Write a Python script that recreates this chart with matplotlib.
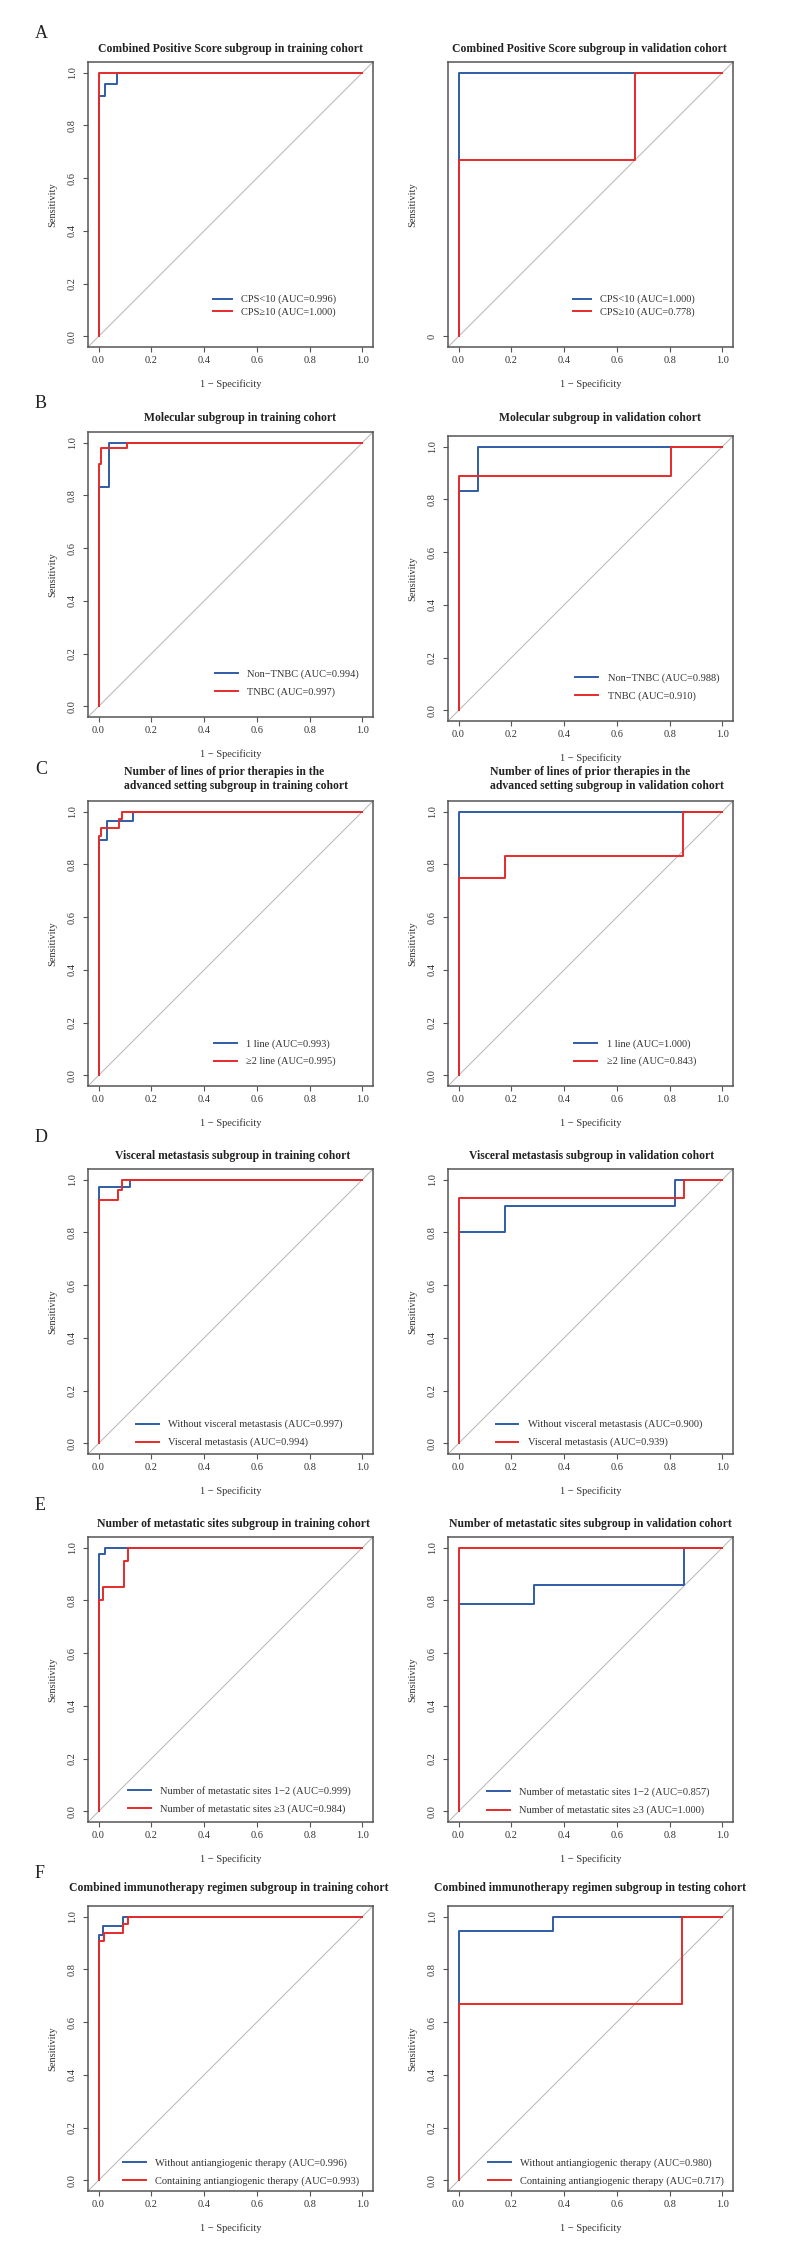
import matplotlib
matplotlib.use('Agg')
import matplotlib.pyplot as plt

plt.rcParams['font.family'] = ['Liberation Serif', 'DejaVu Serif']

BLUE = '#2f5ca6'
RED = '#e62a2a'
GREY = '#555555'

# ROC operating points (1 - specificity, sensitivity)
# A - combined positive score
cps_train_lt10_fpr = [0, 0, 0.024, 0.068, 1]
cps_train_lt10_tpr = [0, 0.911, 0.955, 1, 1]
cps_train_ge10_fpr = [0, 0, 1]
cps_train_ge10_tpr = [0, 1, 1]
cps_valid_lt10_fpr = [0, 0, 1]
cps_valid_lt10_tpr = [0, 1, 1]
cps_valid_ge10_fpr = [0, 0, 0.667, 1]
cps_valid_ge10_tpr = [0, 0.667, 1, 1]

# B - molecular subtype
mol_train_non_fpr = [0, 0, 0.039, 1]
mol_train_non_tpr = [0, 0.833, 1, 1]
mol_train_tnbc_fpr = [0, 0, 0.010, 0.107, 1]
mol_train_tnbc_tpr = [0, 0.918, 0.979, 1, 1]
mol_valid_non_fpr = [0, 0, 0.072, 1]
mol_valid_non_tpr = [0, 0.833, 1, 1]
mol_valid_tnbc_fpr = [0, 0, 0.806, 1]
mol_valid_tnbc_tpr = [0, 0.889, 1, 1]

# C - lines of prior therapy
lines_train_1_fpr = [0, 0, 0.033, 0.130, 1]
lines_train_1_tpr = [0, 0.893, 0.964, 1, 1]
lines_train_2_fpr = [0, 0, 0.011, 0.076, 0.088, 1]
lines_train_2_tpr = [0, 0.909, 0.939, 0.970, 1, 1]
lines_valid_1_fpr = [0, 0, 1]
lines_valid_1_tpr = [0, 1, 1]
lines_valid_2_fpr = [0, 0, 0.175, 0.851, 1]
lines_valid_2_tpr = [0, 0.75, 0.833, 1, 1]

# D - visceral metastasis
visc_train_no_fpr = [0, 0, 0.120, 1]
visc_train_no_tpr = [0, 0.971, 1, 1]
visc_train_yes_fpr = [0, 0, 0.073, 0.090, 1]
visc_train_yes_tpr = [0, 0.923, 0.962, 1, 1]
visc_valid_no_fpr = [0, 0, 0.175, 0.822, 1]
visc_valid_no_tpr = [0, 0.8, 0.9, 1, 1]
visc_valid_yes_fpr = [0, 0, 0.855, 1]
visc_valid_yes_tpr = [0, 0.929, 1, 1]

# E - number of metastatic sites
sites_train_12_fpr = [0, 0, 0.023, 1]
sites_train_12_tpr = [0, 0.976, 1, 1]
sites_train_3_fpr = [0, 0, 0.015, 0.097, 0.112, 1]
sites_train_3_tpr = [0, 0.8, 0.85, 0.95, 1, 1]
sites_valid_12_fpr = [0, 0, 0.284, 0.855, 1]
sites_valid_12_tpr = [0, 0.786, 0.857, 1, 1]
sites_valid_3_fpr = [0, 0, 1]
sites_valid_3_tpr = [0, 1, 1]

# F - combined regimen
reg_train_no_fpr = [0, 0, 0.018, 0.091, 1]
reg_train_no_tpr = [0, 0.929, 0.965, 1, 1]
reg_train_anti_fpr = [0, 0, 0.020, 0.093, 0.111, 1]
reg_train_anti_tpr = [0, 0.909, 0.939, 0.970, 1, 1]
reg_valid_no_fpr = [0, 0, 0.359, 1]
reg_valid_no_tpr = [0, 0.944, 1, 1]
reg_valid_anti_fpr = [0, 0, 0.847, 1]
reg_valid_anti_tpr = [0, 0.667, 1, 1]

letters = ['A', 'B', 'C', 'D', 'E', 'F']
titles = [
    ['Combined Positive Score subgroup in training cohort',
     'Combined Positive Score subgroup in validation cohort'],
    ['Molecular subgroup in training cohort',
     'Molecular subgroup in validation cohort'],
    ['Number of lines of prior therapies in the\nadvanced setting subgroup in training cohort',
     'Number of lines of prior therapies in the\nadvanced setting subgroup in validation cohort'],
    ['Visceral metastasis subgroup in training cohort',
     'Visceral metastasis subgroup in validation cohort'],
    ['Number of metastatic sites subgroup in training cohort',
     'Number of metastatic sites subgroup in validation cohort'],
    ['Combined immunotherapy regimen subgroup in training cohort',
     'Combined immunotherapy regimen subgroup in testing cohort'],
]
labels = [
    [['CPS<10 (AUC=0.996)', 'CPS\u226510 (AUC=1.000)'],
     ['CPS<10 (AUC=1.000)', 'CPS\u226510 (AUC=0.778)']],
    [['Non\u2212TNBC (AUC=0.994)', 'TNBC (AUC=0.997)'],
     ['Non\u2212TNBC (AUC=0.988)', 'TNBC (AUC=0.910)']],
    [['1 line (AUC=0.993)', '\u22652 line (AUC=0.995)'],
     ['1 line (AUC=1.000)', '\u22652 line (AUC=0.843)']],
    [['Without visceral metastasis (AUC=0.997)', 'Visceral metastasis (AUC=0.994)'],
     ['Without visceral metastasis (AUC=0.900)', 'Visceral metastasis (AUC=0.939)']],
    [['Number of metastatic sites 1\u22122 (AUC=0.999)', 'Number of metastatic sites \u22653 (AUC=0.984)'],
     ['Number of metastatic sites 1\u22122 (AUC=0.857)', 'Number of metastatic sites \u22653 (AUC=1.000)']],
    [['Without antiangiogenic therapy (AUC=0.996)', 'Containing antiangiogenic therapy (AUC=0.993)'],
     ['Without antiangiogenic therapy (AUC=0.980)', 'Containing antiangiogenic therapy (AUC=0.717)']],
]
curves = [
    [[(cps_train_lt10_fpr, cps_train_lt10_tpr), (cps_train_ge10_fpr, cps_train_ge10_tpr)],
     [(cps_valid_lt10_fpr, cps_valid_lt10_tpr), (cps_valid_ge10_fpr, cps_valid_ge10_tpr)]],
    [[(mol_train_non_fpr, mol_train_non_tpr), (mol_train_tnbc_fpr, mol_train_tnbc_tpr)],
     [(mol_valid_non_fpr, mol_valid_non_tpr), (mol_valid_tnbc_fpr, mol_valid_tnbc_tpr)]],
    [[(lines_train_1_fpr, lines_train_1_tpr), (lines_train_2_fpr, lines_train_2_tpr)],
     [(lines_valid_1_fpr, lines_valid_1_tpr), (lines_valid_2_fpr, lines_valid_2_tpr)]],
    [[(visc_train_no_fpr, visc_train_no_tpr), (visc_train_yes_fpr, visc_train_yes_tpr)],
     [(visc_valid_no_fpr, visc_valid_no_tpr), (visc_valid_yes_fpr, visc_valid_yes_tpr)]],
    [[(sites_train_12_fpr, sites_train_12_tpr), (sites_train_3_fpr, sites_train_3_tpr)],
     [(sites_valid_12_fpr, sites_valid_12_tpr), (sites_valid_3_fpr, sites_valid_3_tpr)]],
    [[(reg_train_no_fpr, reg_train_no_tpr), (reg_train_anti_fpr, reg_train_anti_tpr)],
     [(reg_valid_no_fpr, reg_valid_no_tpr), (reg_valid_anti_fpr, reg_valid_anti_tpr)]],
]

# layout in pixels of the 792x2257 image
W, H = 792, 2257
BOX = 285
box_left = [88, 448]
box_top = [[62, 62], [432, 436], [801, 801], [1169, 1169], [1537, 1537], [1906, 1906]]
title_y = [[49, 49], [418, 418], [779, 779], [1156, 1156], [1524, 1524], [1888, 1888]]
title_x = [[230, 589], [240, 600], [236, 607], [233, 592], [233, 590], [229, 590]]
letter_y = [34, 404, 769, 1138, 1506, 1874]
# legend: line start x, bottom row centre y (data units)
legend_pos = [
    [(0.435, 0.093), (0.433, 0.093)],
    [(0.441, 0.055), (0.443, 0.056)],
    [(0.436, 0.054), (0.439, 0.054)],
    [(0.141, 0.005), (0.140, 0.005)],
    [(0.111, 0.011), (0.108, 0.005)],
    [(0.093, 0.000), (0.110, 0.000)],
]
legend_gap = [0.3, 0.8, 0.8, 0.8, 0.8, 0.8]
legend_len = [1.75, 2.2, 2.2, 2.2, 2.2, 2.2]

FS = 7.5

fig = plt.figure(figsize=(W / 100, H / 100), dpi=100)


def draw_panel(row, col):
    top = box_top[row][col]
    ax = fig.add_axes([box_left[col] / W, 1 - (top + BOX) / H, BOX / W, BOX / H])
    ax.set_xlim(-0.04, 1.04)
    ax.set_ylim(-0.04, 1.04)

    ax.axline((0, 0), (1, 1), color='#b5b5b5', lw=0.7)
    for (fpr, tpr), color, lab in zip(curves[row][col], [BLUE, RED], labels[row][col]):
        ax.plot(fpr, tpr, drawstyle='steps-post', color=color, lw=1.4, label=lab)

    ax.set_xticks([0, 0.2, 0.4, 0.6, 0.8, 1.0])
    ax.set_xticklabels(['0.0', '0.2', '0.4', '0.6', '0.8', '1.0'])
    if row == 0 and col == 1:
        ax.set_yticks([0])
        ax.set_yticklabels(['0'])
    else:
        ax.set_yticks([0, 0.2, 0.4, 0.6, 0.8, 1.0])
        ax.set_yticklabels(['0.0', '0.2', '0.4', '0.6', '0.8', '1.0'])
    ax.tick_params(length=3.6, width=0.8, color=GREY, labelsize=FS, labelcolor='#333333')
    ax.tick_params(axis='x', pad=3)
    ax.tick_params(axis='y', pad=4.5, labelrotation=90)
    for lab in ax.get_yticklabels():
        lab.set_va('center')
    for s in ax.spines.values():
        s.set_color(GREY)
        s.set_linewidth(1.1)

    ax.text(0.5, -37 / BOX, '1 \u2212 Specificity', transform=ax.transAxes,
            ha='center', va='center', fontsize=FS, color='#333333')
    ax.text(-35 / BOX, 0.5, 'Sensitivity', transform=ax.transAxes, rotation=90,
            ha='center', va='center', fontsize=FS, color='#333333')

    lx, ly = legend_pos[row][col]
    ax.legend(loc='lower left', bbox_to_anchor=(lx, ly - 0.02), bbox_transform=ax.transData,
              frameon=False, fontsize=FS, borderpad=0, borderaxespad=0,
              handlelength=legend_len[row], handletextpad=0.9, labelspacing=legend_gap[row],
              labelcolor='#333333')

    fig.text(title_x[row][col] / W, 1 - title_y[row][col] / H, titles[row][col],
             ha='center', va='center', multialignment='left', fontsize=8.4,
             fontweight='bold', color='#222222', linespacing=1.15)


for r in range(6):
    for c in range(2):
        draw_panel(r, c)
    fig.text(35 / W, 1 - letter_y[r] / H, letters[r], ha='left', va='center',
             fontsize=13, color='#222222')

fig.savefig('out.png', dpi=100)
